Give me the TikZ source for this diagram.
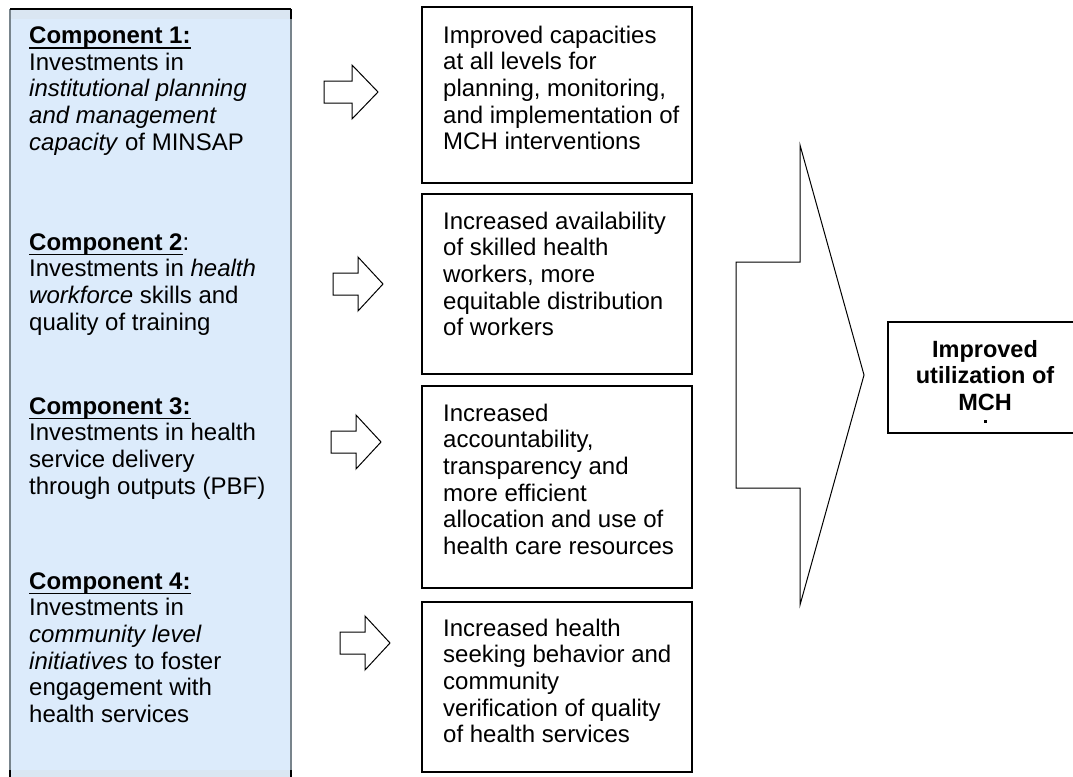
\documentclass[tikz,border=0pt]{standalone}
\usepackage{fontspec}
\setmainfont{Liberation Sans}
\definecolor{panelblue}{RGB}{220,235,251}
\definecolor{panelband}{RGB}{218,230,242}
\definecolor{paneledge}{RGB}{120,132,140}
% underline drawn as a rule just below the descenders
\newcommand\ulbar[1]{\setbox0\hbox{#1}\rlap{\rule[-5.4pt]{\wd0}{1.8pt}}\box0}
\begin{document}
\begin{tikzpicture}[x=1pt,y=-1pt,
  txt/.style={inner sep=0pt, align=left, anchor=base west,
    font=\fontsize{24}{26.7}\selectfont},
  goal/.style={inner sep=0pt, align=center, anchor=base,
    font=\fontsize{23.5}{26.7}\selectfont\bfseries},
  outbox/.style={draw=black, line width=1.3pt},
  blockarrow/.style={draw=black, line width=1pt, fill=white, line join=miter}]
\useasboundingbox (0,0) rectangle (1073,776);
\clip (0,0) rectangle (1073,776);

% left panel with the four components
\fill[panelblue] (10,9) rectangle (291,790);
\fill[panelband] (10,9) rectangle (291,19);
\fill[panelband] (10,770) rectangle (291,790);
\draw[paneledge, line width=1.2pt] (10,9) -- (10,790);
\draw[paneledge, line width=1.2pt] (291,9) -- (291,790);
\draw[black, line width=1.5pt] (10,9) -- (291,9);
\draw[black, line width=1.5pt] (291,9) -- (291,19);
\draw[black, line width=1.5pt] (291,770) -- (291,790);
\draw[black, line width=1.5pt] (10,770) -- (10,790);

% text nodes are placed by the baseline of their last line
\node[txt] (c1) at (29,150.1) {\ulbar{\textbf{Component 1:}}\\
  Investments in\\ \textit{institutional planning}\\ \textit{and management}\\
  \textit{capacity} of MINSAP};
\node[txt] (c2) at (29,330.1) {\ulbar{\textbf{Component 2}}:\\
  Investments in \textit{health}\\ \textit{workforce} skills and\\ quality of training};
\node[txt] (c3) at (29,494.1) {\ulbar{\textbf{Component 3:}}\\
  Investments in health\\ service delivery\\ through outputs (PBF)};
\node[txt] (c4) at (29,722.5) {\ulbar{\textbf{Component 4:}}\\
  Investments in\\ \textit{community level}\\ \textit{initiatives} to foster\\
  engagement with\\ health services};

% outcome boxes
\draw[outbox] (422,7) rectangle (692,183);
\draw[outbox] (422,194) rectangle (692,374);
\draw[outbox] (422,386) rectangle (692,588);
\draw[outbox] (422,602) rectangle (692,772);

\node[txt] (o1) at (443,149.8) {Improved capacities\\ at all levels for\\
  planning, monitoring,\\ and implementation of\\ MCH interventions};
\node[txt] (o2) at (443,335.8) {Increased availability\\ of skilled health\\
  workers, more\\ equitable distribution\\ of workers};
\node[txt] (o3) at (443,554.5) {Increased\\ accountability,\\ transparency and\\
  more efficient\\ allocation and use of\\ health care resources};
\node[txt] (o4) at (443,742.8) {Increased health\\ seeking behavior and\\
  community\\ verification of quality\\ of health services};

% small block arrows from components to outcomes
\draw[blockarrow] (324,81) -- (352,81) -- (352,65) -- (378,92) -- (352,119)
  -- (352,103) -- (324,103) -- cycle;
\draw[blockarrow] (333,273) -- (358,273) -- (358,257) -- (383,284) -- (358,311)
  -- (358,295) -- (333,295) -- cycle;
\draw[blockarrow] (331,431) -- (356,431) -- (356,415) -- (381,442) -- (356,469)
  -- (356,453) -- (331,453) -- cycle;
\draw[blockarrow] (340,632) -- (365,632) -- (365,616) -- (390,643) -- (365,670)
  -- (365,654) -- (340,654) -- cycle;

% large block arrow towards the overall result
\draw[blockarrow] (736,262) -- (800,262) -- (800,145) -- (864,375) -- (800,605)
  -- (800,488) -- (736,488) -- cycle;

% overall result
\draw[outbox] (1090,322) -- (888,322) -- (888,433) -- (1090,433);
\node[goal] (g) at (985,410.4) {Improved\\ utilization of\\ MCH};
\fill[black] (984,420) rectangle (987,423);
\end{tikzpicture}
\end{document}
